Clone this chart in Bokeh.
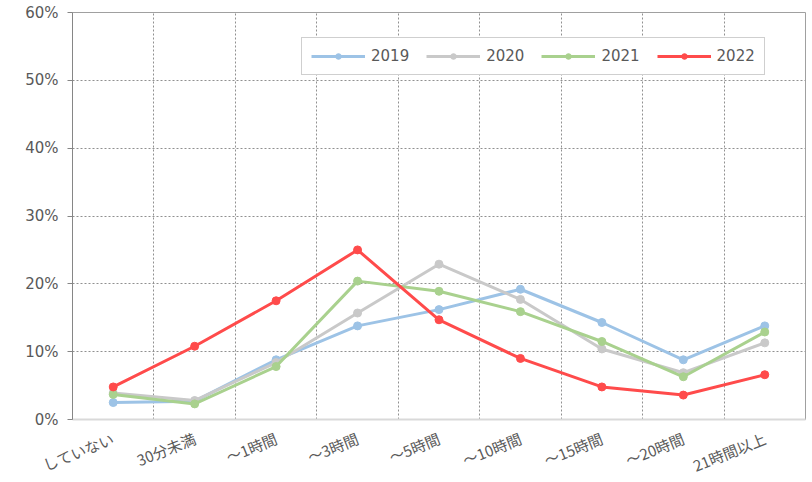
from bokeh.plotting import figure
from bokeh.models import FixedTicker, Range1d, Legend, LegendItem
from bokeh.embed import file_html
from bokeh.resources import INLINE

categories = ["していない", "30分未満", "～1時間", "～3時間", "～5時間", "～10時間", "～15時間", "～20時間", "21時間以上"]
s2019 = [2.5, 2.7, 8.8, 13.8, 16.2, 19.2, 14.3, 8.8, 13.8]
s2020 = [3.9, 2.8, 8.4, 15.7, 22.9, 17.7, 10.4, 6.9, 11.3]
s2021 = [3.7, 2.3, 7.8, 20.4, 18.9, 15.9, 11.5, 6.3, 12.9]
s2022 = [4.8, 10.8, 17.5, 25.0, 14.7, 9.0, 4.8, 3.6, 6.6]
years = ["2019", "2020", "2021", "2022"]
colors = ["#9DC3E6", "#C9C9C9", "#A9D18E", "#FF4B4B"]
y_ticks = [0, 10, 20, 30, 40, 50, 60]

p = figure(frame_width=733, frame_height=407, output_backend="svg", toolbar_location=None,
           x_range=Range1d(0, len(categories)), y_range=Range1d(0, 60),
           min_border_left=72, min_border_right=4, min_border_top=12, min_border_bottom=10)

xs = [i + 0.5 for i in range(len(categories))]
items = []
for yr, vals, c in zip(years, [s2019, s2020, s2021, s2022], colors):
    r1 = p.line(xs, vals, line_color=c, line_width=3)
    r2 = p.scatter(xs, vals, size=8, fill_color=c, line_color=c)
    items.append(LegendItem(label=yr, renderers=[r1, r2]))

legend = Legend(items=items, orientation="horizontal", location=(229, 344),
                label_text_font="DejaVu Sans", label_text_font_size="15px",
                label_text_color="#595959", glyph_width=54, glyph_height=14,
                spacing=17, padding=9, margin=0, label_standoff=6,
                border_line_color="#A0A0A0", border_line_width=1,
                background_fill_alpha=1)
p.add_layout(legend, "center")

# x axis
p.xaxis.ticker = FixedTicker(ticks=xs)
p.xaxis.major_label_overrides = {x: c for x, c in zip(xs, categories)}
p.xaxis.major_label_orientation = 0.38
p.xaxis.major_label_standoff = 12
p.xaxis.major_label_text_font = "Noto Sans CJK JP"
p.xaxis.major_label_text_font_size = "15px"
p.xaxis.major_label_text_color = "#595959"
p.xaxis.major_tick_line_color = None
p.xaxis.minor_tick_line_color = None
p.xaxis.axis_line_color = "#D9D9D9"
p.xaxis.axis_line_width = 2

# y axis
p.yaxis.ticker = FixedTicker(ticks=y_ticks)
p.yaxis.major_label_overrides = {t: f"{t}%" for t in y_ticks}
p.yaxis.major_label_text_font = "DejaVu Sans"
p.yaxis.major_label_text_font_size = "15px"
p.yaxis.major_label_text_color = "#595959"
p.yaxis.major_label_standoff = 9
p.yaxis.major_tick_out = 5
p.yaxis.major_tick_in = 0
p.yaxis.major_tick_line_color = "#868686"
p.yaxis.minor_tick_line_color = None
p.yaxis.axis_line_color = "#868686"

# grids
p.xgrid.ticker = FixedTicker(ticks=list(range(1, len(categories))))
p.xgrid.grid_line_color = "#909090"
p.xgrid.grid_line_dash = "2 2"
p.ygrid.grid_line_color = "#909090"
p.ygrid.grid_line_dash = "2 2"

p.outline_line_color = "#A0A0A0"
p.background_fill_color = "white"

open("out.html", "w").write(file_html(p, INLINE))
